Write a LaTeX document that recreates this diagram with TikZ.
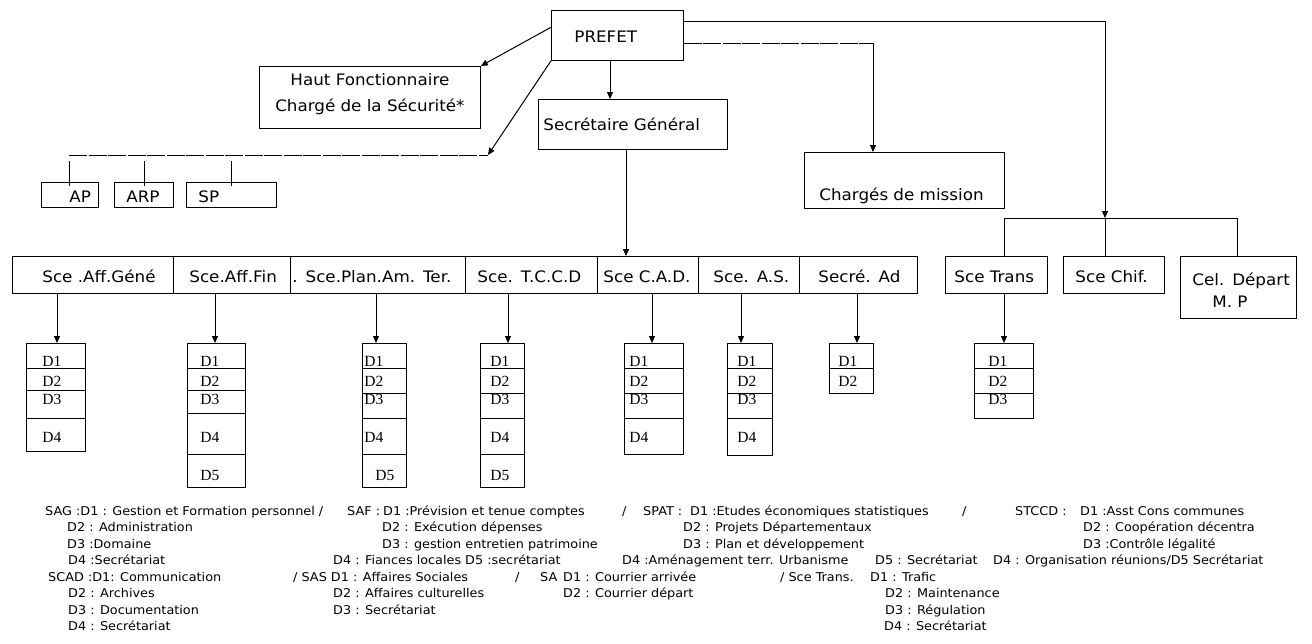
\documentclass[tikz,border=0pt]{standalone}
\usepackage{fontspec}
\newfontfamily\cfont{DejaVu Sans}[FakeStretch=1.06]
\newfontfamily\dfont{Liberation Serif}
\usetikzlibrary{arrows.meta,calc}
\newcommand\mybox[8]{\pgfmathsetmacro\mbW{#4-#2}\pgfmathsetmacro\mbH{#6-#3}\pgfmathsetmacro\mbD{#5-#6}%
  \node[bx, text width=\mbW pt, text height=\mbH pt, text depth=\mbD pt] (#1) at (#2,#3) {\mbox{\hspace*{#7pt}#8}};}
\newcommand\dc[8]{\pgfmathsetmacro\mbH{#6-#4}\pgfmathsetmacro\mbD{#5-#6}%
  \node[cell, text width=#3pt, text height=\mbH pt, text depth=\mbD pt] (#1) at (#2,#4) {\mbox{\hspace*{#7pt}#8}};}
\begin{document}
\begin{tikzpicture}[x=1pt,y=-1pt,
  every node/.style={inner sep=0pt},
  bx/.style={draw, line width=0.8pt, anchor=north west, align=left, font={\cfont\fontsize{15.8}{19}\selectfont}},
  cell/.style={draw, line width=0.8pt, anchor=north west, align=left, font={\dfont\fontsize{15.5}{17}\selectfont}},
  lg/.style={anchor=base west, font={\cfont\fontsize{12.1}{14}\selectfont}},
  arr/.style={line width=1pt, -{Triangle[length=7pt,width=6pt]}},
  ln/.style={line width=1pt},
  longdash/.style={dash pattern=on 18pt off 1.5pt}]
\fill[white] (0,0) rectangle (1312,643);
\useasboundingbox (0,0) rectangle (1312,643);

% top boxes
\mybox{prefet}{551}{10}{683}{60}{42}{23}{PREFET}
\node[bx, align=center, text width=221pt, text height=19pt, text depth=43pt] (haut) at (259,66)
  {Haut Fonctionnaire\\[7pt]Chargé de la Sécurité*};
\mybox{sg}{538}{99}{727}{149}{130}{5}{Secrétaire Général}
\mybox{cm}{804}{152}{1004}{208}{200}{15}{Chargés de mission}
\mybox{ap}{41}{182}{98}{207}{202}{28}{AP}
\mybox{arp}{114}{182}{173}{207}{202}{12}{ARP}
\mybox{sp}{186}{182}{276}{207}{202}{12}{SP}

% service row
\mybox{b1}{12}{256}{173}{293}{282}{30}{Sce .Aff.Géné}
\mybox{b2}{173}{256}{290}{293}{282}{16}{Sce.Aff.Fin}
\mybox{b3}{290}{256}{465}{293}{282}{2}{. Sce.Plan.Am. Ter.}
\mybox{b4}{465}{256}{597}{293}{282}{12}{Sce. T.C.C.D}
\mybox{b5}{597}{256}{698}{293}{282}{6}{Sce C.A.D.}
\mybox{b6}{698}{256}{799}{293}{282}{15}{Sce. A.S.}
\mybox{b7}{799}{256}{917}{293}{282}{19}{Secré. Ad}
\mybox{strans}{945}{256}{1047}{293}{282}{9}{Sce Trans}
\mybox{schif}{1063}{256}{1164}{293}{282}{12}{Sce Chif.}
\node[bx, text width=116pt, text height=29pt, text depth=33pt] (cel) at (1180,256)
  {\mbox{\hspace*{12pt}Cel. Départ}\\[3pt]\mbox{\hspace*{32pt}M. P}};

% D boxes
\dc{sag1}{26}{59}{343}{368}{366}{16}{D1}
\dc{sag2}{26}{59}{368}{390}{386}{16}{D2}
\dc{sag3}{26}{59}{390}{418}{404}{16}{D3}
\dc{sag4}{26}{59}{418}{451}{442}{16}{D4}
\dc{saf1}{187}{58}{343}{368}{366}{13}{D1}
\dc{saf2}{187}{58}{368}{390}{386}{13}{D2}
\dc{saf3}{187}{58}{390}{413}{404}{13}{D3}
\dc{saf4}{187}{58}{413}{454}{442}{13}{D4}
\dc{saf5}{187}{58}{454}{487}{480}{13}{D5}
\dc{spat1}{362}{44}{343}{368}{366}{2}{D1}
\dc{spat2}{362}{44}{368}{393}{386}{2}{D2}
\dc{spat3}{362}{44}{393}{418}{404}{2}{D3}
\dc{spat4}{362}{44}{418}{454}{442}{2}{D4}
\dc{spat5}{362}{44}{454}{487}{480}{13}{D5}
\dc{stc1}{480}{44}{343}{368}{366}{10}{D1}
\dc{stc2}{480}{44}{368}{393}{386}{10}{D2}
\dc{stc3}{480}{44}{393}{418}{404}{10}{D3}
\dc{stc4}{480}{44}{418}{454}{442}{10}{D4}
\dc{stc5}{480}{44}{454}{487}{480}{10}{D5}
\dc{scad1}{624}{59}{343}{368}{366}{5}{D1}
\dc{scad2}{624}{59}{368}{393}{386}{5}{D2}
\dc{scad3}{624}{59}{393}{418}{404}{5}{D3}
\dc{scad4}{624}{59}{418}{454}{442}{5}{D4}
\dc{sas1}{727}{45}{343}{368}{366}{10}{D1}
\dc{sas2}{727}{45}{368}{393}{386}{10}{D2}
\dc{sas3}{727}{45}{393}{418}{404}{10}{D3}
\dc{sas4}{727}{45}{418}{455}{442}{10}{D4}
\dc{sad1}{829}{44}{343}{368}{366}{9}{D1}
\dc{sad2}{829}{44}{368}{393}{386}{9}{D2}
\dc{tr1}{974}{59}{343}{368}{366}{14}{D1}
\dc{tr2}{974}{59}{368}{393}{386}{14}{D2}
\dc{tr3}{974}{59}{393}{418}{404}{14}{D3}

% helper coordinates
\coordinate (apjoin) at (488,155);
\coordinate (apl) at (69,155);
\coordinate (t1) at (69,161);
\coordinate (t2) at (144,161);
\coordinate (t3) at (231,161);
\coordinate (x610) at (610,0);
\coordinate (x626) at (626,0);
\coordinate (y21) at (0,21);
\coordinate (y43) at (0,43);
\coordinate (rbar) at (1105,218);
\coordinate (cmc) at (873,43);
\coordinate (tb1) at (1004,218);
\coordinate (tb3) at (1237,218);

% connectors
\draw[arr] ($(prefet.north west)!0.34!(prefet.south west)$) -- (haut.north east);
\draw[arr] (prefet.south west) -- (apjoin);
\draw[ln, longdash] (apl) -- (apjoin);
\draw[ln] (t1) -- ([yshift=-4pt]ap.north -| t1);
\draw[ln] (t2) -- ([yshift=-4pt]arp.north -| t2);
\draw[ln] (t3) -- ([yshift=-4pt]sp.north -| t3);
\draw[arr] (prefet.south -| x610) -- (sg.north -| x610);
\draw[arr] (sg.south -| x626) -- (b5.north -| x626);
\draw[arr] (prefet.east |- y21) -| (rbar);
\draw[ln, longdash] (prefet.east |- y43) -- (cmc);
\draw[arr] (cmc) -- (cm.north -| cmc);
\draw[ln] (tb1) -- (tb3);
\draw[ln] (tb1) -- (strans.north -| tb1);
\draw[ln] (rbar) -- (schif.north -| rbar);
\draw[ln] (tb3) -- (cel.north -| tb3);
\foreach \s/\d/\x in {b1/sag1/57, b2/saf1/215, b3/spat1/376, b4/stc1/508, b5/scad1/652, b6/sas1/741, b7/sad1/857, strans/tr1/1004}{
  \coordinate (tmp) at (\x,0);
  \draw[arr] (\s.south -| tmp) -- (\d.north -| tmp);
}

% legend
\node[lg] (l1a) at (45,515) {SAG :D1 : Gestion et Formation personnel /};
\node[lg] (l1b) at (347,515) {SAF :};
\node[lg] (l1c) at (383,515) {D1 :Prévision et tenue comptes};
\node[lg] (l1d) at (622,515) {/};
\node[lg] (l1e) at (643,515) {SPAT :};
\node[lg] (l1f) at (690,515) {D1 :Etudes économiques statistiques};
\node[lg] (l1g) at (962,515) {/};
\node[lg] (l1h) at (1015,515) {STCCD :};
\node[lg] (l1i) at (1080,515) {D1 :Asst Cons communes};

\node[lg] (l2a) at (67,531.5) {D2 : Administration};
\node[lg] (l2b) at (382,531.5) {D2 : Exécution dépenses};
\node[lg] (l2c) at (683,531.5) {D2 : Projets Départementaux};
\node[lg] (l2d) at (1083,531.5) {D2 : Coopération décentra};

\node[lg] (l3a) at (67,548) {D3 :Domaine};
\node[lg] (l3b) at (382,548) {D3 : gestion entretien patrimoine};
\node[lg] (l3c) at (683,548) {D3 : Plan et développement};
\node[lg] (l3d) at (1083,548) {D3 :Contrôle légalité};

\node[lg] (l4a) at (68,564.5) {D4 :Secrétariat};
\node[lg] (l4b) at (333,564.5) {D4 : Fiances locales};
\node[lg] (l4c) at (465,564.5) {D5 :secrétariat};
\node[lg] (l4d) at (622,564.5) {D4 :Aménagement terr. Urbanisme};
\node[lg] (l4e) at (875,564.5) {D5 : Secrétariat};
\node[lg] (l4f) at (993,564.5) {D4 : Organisation réunions/D5 Secrétariat};

\node[lg] (l5a) at (48,581) {SCAD :D1: Communication};
\node[lg] (l5b) at (293,581) {/ SAS D1 : Affaires Sociales};
\node[lg] (l5c) at (515,581) {/};
\node[lg] (l5d) at (540,581) {SA};
\node[lg] (l5e) at (563,581) {D1 : Courrier arrivée};
\node[lg] (l5f) at (780,581) {/ Sce Trans.};
\node[lg] (l5g) at (870,581) {D1 : Trafic};

\node[lg] (l6a) at (68,597.5) {D2 : Archives};
\node[lg] (l6b) at (333,597.5) {D2 : Affaires culturelles};
\node[lg] (l6c) at (563,597.5) {D2 : Courrier départ};
\node[lg] (l6d) at (885,597.5) {D2 : Maintenance};

\node[lg] (l7a) at (68,614) {D3 : Documentation};
\node[lg] (l7b) at (333,614) {D3 : Secrétariat};
\node[lg] (l7c) at (885,614) {D3 : Régulation};

\node[lg] (l8a) at (68,630.5) {D4 : Secrétariat};
\node[lg] (l8b) at (884,630.5) {D4 : Secrétariat};
\end{tikzpicture}
\end{document}
